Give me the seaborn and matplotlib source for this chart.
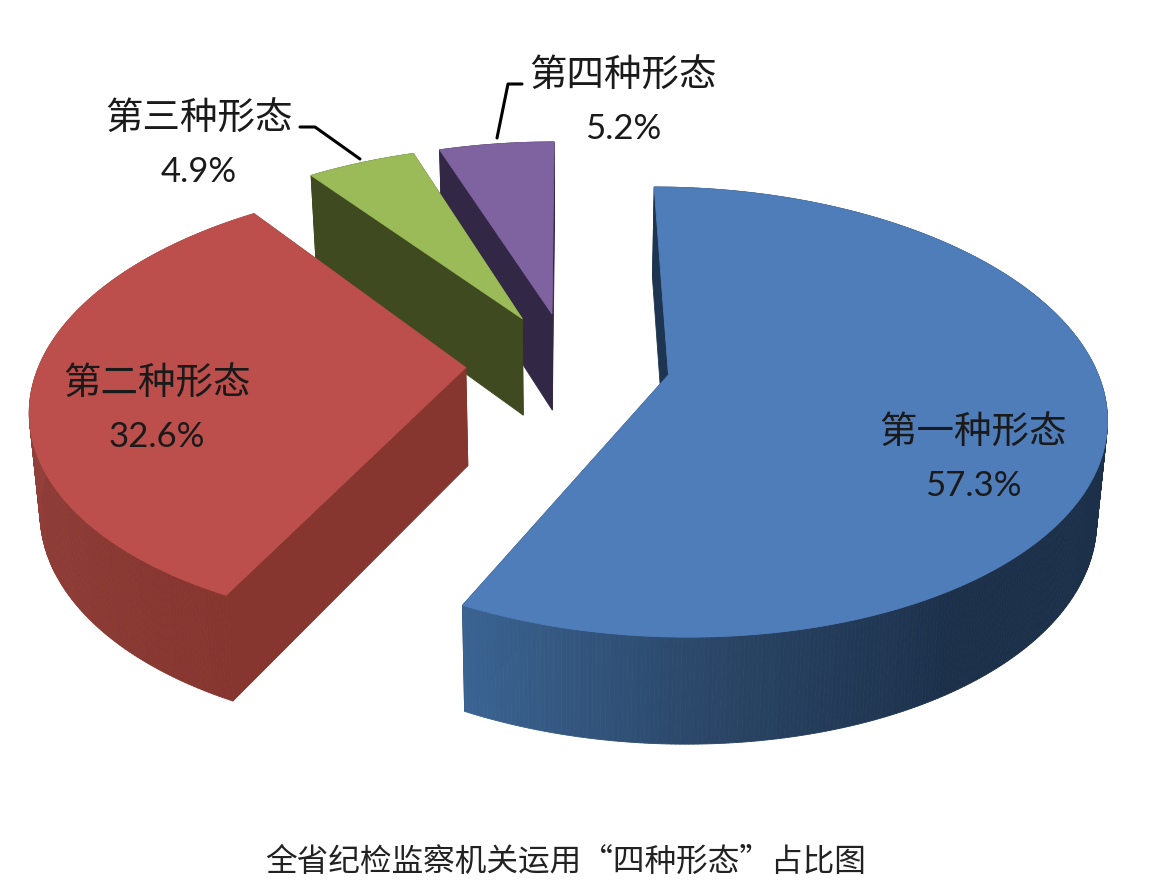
import numpy as np
import matplotlib
matplotlib.use("Agg")
import matplotlib.pyplot as plt
import seaborn as sns

names = ["第一种形态", "第二种形态", "第三种形态", "第四种形态"]
shares = [57.3, 32.6, 4.9, 5.2]
title = "全省纪检监察机关运用“四种形态”占比图"

top_colors = ["#4F7DB9", "#BC4F4B", "#9BBB59", "#7F62A0"]
face_colors = ["#1E3551", "#87352F", "#3F4A20", "#322745"]
side_colors = [
    ["#1F3450", "#1F3450", "#1E3350", "#1D314C", "#1C304A", "#1C304A", "#2A4566", "#3B6493"],
    ["#86352F", "#93403B", "#A04A45"],
    ["#3F4A20", "#3F4A20"],
    ["#322745", "#322745"],
]
text_pos = [(973, 433), (157, 384), (199, 119), (623, 76)]
leaders = [None, None, [(300, 127), (315, 127), (360, 159)], [(522, 84), (508, 84), (497, 138)]]

# projection of the pie plane onto the pixel axes
CX, CY = 568, 363
RX, RY = 426, 215
PERSP = 0.164
DEPTH = 98
DEPTH_PERSP = 0.08
SHRINK = 0.98
EXPLODE = 0.24
START = 0.0


def project(x, y):
    w = 1 + PERSP * y
    return CX + RX * x / w, CY - RY * y / w


def drop(x, y):
    px, py = project(x, y)
    return CX + (px - CX) * SHRINK, py + DEPTH / (1 + DEPTH_PERSP * y)


def face(ax, pts, color):
    xs, ys = zip(*pts)
    ax.fill(xs, ys, color=color, lw=0.6, zorder=2)


sns.set_theme(style="white")
plt.rcParams["font.family"] = ["Noto Sans CJK SC", "DejaVu Sans"]

fig = plt.figure(figsize=(11.72, 8.92), dpi=100)
ax = fig.add_axes([0, 0, 1, 1])
ax.set_xlim(0, 1172)
ax.set_ylim(892, 0)
ax.axis("off")

edges = START + np.concatenate([[0], np.cumsum(shares)]) * 3.6
slices = []
for i in range(len(shares)):
    a0, a1 = np.radians(edges[i]), np.radians(edges[i + 1])
    mid = (a0 + a1) / 2
    slices.append((i, a0, a1, EXPLODE * np.sin(mid), EXPLODE * np.cos(mid)))

# back to front
for i, a0, a1, ox, oy in [slices[3], slices[2], slices[1], slices[0]]:
    t = np.linspace(a0, a1, max(int(np.degrees(a1 - a0)), 2) * 2)
    xs, ys = ox + np.sin(t), oy + np.cos(t)

    # cut face at the end angle stays behind the wall
    face(ax, [project(ox, oy), project(xs[-1], ys[-1]), drop(xs[-1], ys[-1]), drop(ox, oy)], face_colors[i])

    # outer wall, one strip per step so the shade can change along the arc
    pal = sns.blend_palette(side_colors[i], len(t))
    for k in range(len(t) - 1):
        face(ax, [project(xs[k], ys[k]), project(xs[k + 1], ys[k + 1]),
                  drop(xs[k + 1], ys[k + 1]), drop(xs[k], ys[k])], pal[k])

    # cut face at the start angle is the one that shows
    face(ax, [project(ox, oy), project(xs[0], ys[0]), drop(xs[0], ys[0]), drop(ox, oy)], face_colors[i])

    # top
    face(ax, [project(ox, oy)] + [project(a, b) for a, b in zip(xs, ys)], top_colors[i])

for i, name in enumerate(names):
    tx, ty = text_pos[i]
    ax.text(tx, ty, name, fontsize=27, color="#1A1A1A", ha="center", va="center", zorder=5)
    ax.text(tx, ty + 53, f"{shares[i]}%", fontsize=25, color="#1A1A1A", ha="center", va="center",
            family=["Lato", "DejaVu Sans"], zorder=5)
    if leaders[i]:
        lx, ly = zip(*leaders[i])
        ax.plot(lx, ly, color="black", lw=2.2, zorder=4, solid_joinstyle="round")

ax.text(566, 862, title, fontsize=22.8, color="#222222", ha="center", va="center", zorder=5)

fig.savefig("out.png", dpi=100, facecolor="white")
